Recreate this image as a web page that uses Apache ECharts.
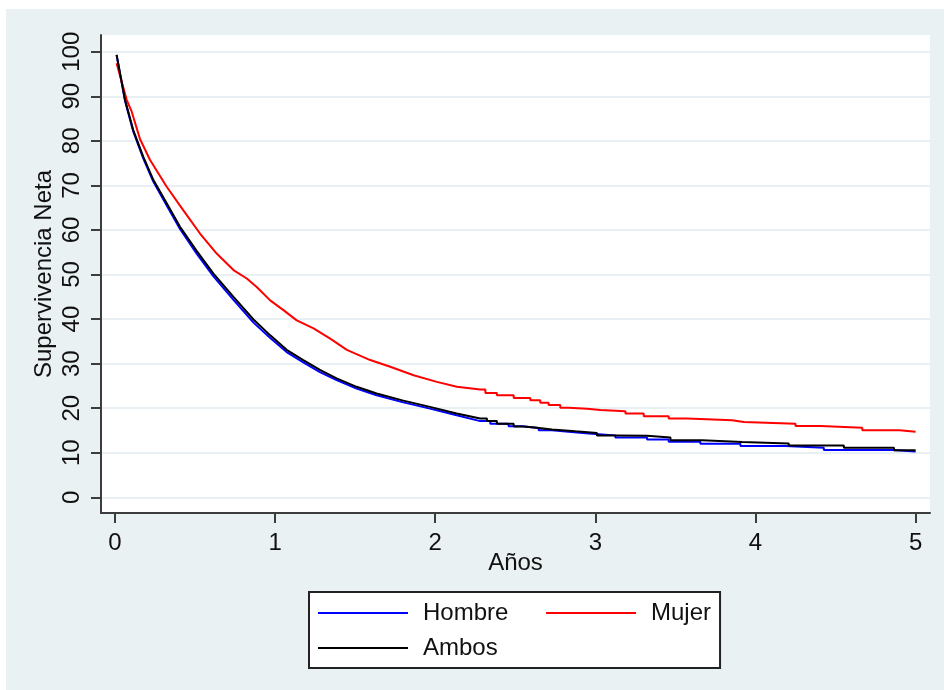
<!DOCTYPE html>
<html>
<head>
<meta charset="utf-8">
<title>Supervivencia Neta</title>
<script src="https://cdn.jsdelivr.net/npm/echarts@6/dist/echarts.min.js"></script>
<style>
  html, body { margin: 0; padding: 0; background: #ffffff; }
  #chart { position: absolute; left: 6px; top: 9px; width: 938px; height: 681px; }
</style>
</head>
<body>
<div id="chart"></div>
<script>
// Axis ticks
const xTicks = [0, 1, 2, 3, 4, 5];
const yTicks = [0, 10, 20, 30, 40, 50, 60, 70, 80, 90, 100];

// Net survival (%) by years since diagnosis.
// First part: dense readings [years, %]; second part: later survival steps [years, %].
const hombreInicio = [
  [0.01, 99.3], [0.0625, 89.0], [0.114, 82.1], [0.177, 76.0], [0.24, 70.8],
  [0.323, 65.5], [0.406, 60.2], [0.51, 54.7], [0.615, 49.6], [0.74, 44.3],
  [0.865, 39.2], [0.968, 35.8], [1.072, 32.6], [1.176, 30.3], [1.28, 28.1],
  [1.384, 26.3], [1.509, 24.4], [1.634, 22.9], [1.801, 21.3], [1.967, 19.9],
  [2.134, 18.4], [2.281, 17.1]
];
const hombreEscalones = [
  [2.344, 16.5], [2.458, 15.95], [2.542, 15.55], [2.646, 15.05], [2.729, 14.7],
  [2.833, 14.3], [2.958, 13.9], [3.125, 13.4], [3.323, 12.95], [3.458, 12.45],
  [3.656, 12.0], [3.906, 11.5], [4.187, 11.1], [4.427, 10.6], [4.854, 10.3],
  [5.0, 10.3]
];

const mujerInicio = [
  [0.01, 97.4], [0.073, 89.2], [0.104, 86.6], [0.156, 80.4], [0.219, 75.7],
  [0.323, 69.7], [0.427, 64.4], [0.531, 59.2], [0.635, 54.7], [0.74, 51.0],
  [0.823, 49.1], [0.885, 47.2], [0.969, 44.2], [1.052, 42.0], [1.135, 39.7],
  [1.24, 37.9], [1.344, 35.6], [1.448, 33.1], [1.594, 30.8], [1.719, 29.3],
  [1.865, 27.4], [2.01, 25.9], [2.135, 24.8], [2.281, 24.2]
];
const mujerEscalones = [
  [2.313, 23.4], [2.385, 22.9], [2.49, 22.3], [2.594, 21.8], [2.656, 21.2],
  [2.708, 20.7], [2.781, 20.1], [2.833, 19.9], [2.948, 19.6], [3.031, 19.3],
  [3.188, 18.8], [3.302, 18.2], [3.458, 17.7], [3.573, 17.3], [3.854, 16.9],
  [3.927, 16.5], [4.25, 16.0], [4.406, 15.6], [4.667, 15.05], [4.9, 14.7],
  [5.0, 14.7]
];

const ambosInicio = [
  [0.01, 99.3], [0.0625, 89.2], [0.114, 82.4], [0.177, 76.4], [0.24, 71.2],
  [0.323, 66.0], [0.406, 60.7], [0.51, 55.3], [0.615, 50.2], [0.74, 45.0],
  [0.865, 39.9], [0.968, 36.4], [1.072, 33.1], [1.176, 30.8], [1.28, 28.6],
  [1.384, 26.7], [1.509, 24.8], [1.634, 23.3], [1.801, 21.7], [1.967, 20.3],
  [2.134, 18.8], [2.281, 17.7]
];
const ambosEscalones = [
  [2.323, 17.1], [2.385, 16.5], [2.49, 15.9], [2.552, 15.6], [2.635, 15.2],
  [2.729, 14.8], [2.875, 14.45], [3.01, 13.9], [3.135, 13.8], [3.323, 13.4],
  [3.469, 12.8], [3.667, 12.4], [3.917, 12.05], [4.208, 11.6], [4.552, 11.1],
  [4.865, 10.55], [5.0, 10.55]
];

// Joins the dense part with the step part: each step holds the previous
// value until its time, then drops.
function curva(inicio, escalones) {
  const pts = inicio.slice();
  let prev = inicio[inicio.length - 1][1];
  escalones.forEach(function (p) {
    pts.push([p[0], prev]);
    pts.push([p[0], p[1]]);
    prev = p[1];
  });
  return pts;
}

const FONT = "'Liberation Sans', Arial, sans-serif";
const TEXT = '#111111';
const AXIS = '#3c3c3c';

const chart = echarts.init(document.getElementById('chart'), null, { renderer: 'canvas' });

chart.setOption({
  animation: false,
  backgroundColor: '#eaf1f3',
  textStyle: { fontFamily: FONT },
  grid: {
    left: 95, top: 26, right: 14, bottom: 177,
    show: true, backgroundColor: '#ffffff', borderWidth: 0,
    outerBoundsMode: 'none'
  },
  xAxis: {
    type: 'value',
    min: -0.0874, max: 5.09,
    name: 'Años',
    nameLocation: 'middle',
    nameGap: 38,
    nameMoveOverlap: false,
    nameTextStyle: { fontSize: 24, color: TEXT, fontFamily: FONT },
    axisLine: { show: true, onZero: false, lineStyle: { color: AXIS, width: 2 } },
    axisTick: { show: true, length: 10, customValues: xTicks, lineStyle: { color: AXIS, width: 2 } },
    axisLabel: { customValues: xTicks, fontSize: 24, color: TEXT, margin: 18, fontFamily: FONT },
    splitLine: { show: false }
  },
  yAxis: {
    type: 'value',
    min: -3.52, max: 103.75,
    name: 'Supervivencia Neta',
    nameLocation: 'middle',
    nameRotate: 90,
    nameGap: 45,
    nameMoveOverlap: false,
    nameTextStyle: { fontSize: 24, color: TEXT, fontFamily: FONT },
    axisLine: { show: true, onZero: false, lineStyle: { color: AXIS, width: 2 } },
    axisTick: { show: true, length: 10, customValues: yTicks, lineStyle: { color: AXIS, width: 2 } },
    axisLabel: { customValues: yTicks, rotate: 90, fontSize: 24, color: TEXT, margin: 17, fontFamily: FONT },
    splitLine: { show: true, lineStyle: { color: '#e9f0f4', width: 2 } }
  },
  legend: {
    data: ['Hombre', 'Mujer', 'Ambos'],
    // widen the first-column label so the second column starts further right
    formatter: function (name) {
      return name === 'Hombre' ? name + '\u00a0\u00a0\u00a0\u00a0' : name;
    },
    left: 303, top: 583, width: 420,
    orient: 'horizontal',
    icon: 'rect',
    itemWidth: 90, itemHeight: 2, itemGap: 11,
    padding: [9, 9, 8, 9],
    backgroundColor: '#ffffff',
    borderColor: '#222222', borderWidth: 2, borderRadius: 0,
    selectedMode: false,
    textStyle: { fontSize: 24, color: TEXT, fontFamily: FONT, padding: [0, 0, 0, 10] }
  },
  series: [
    {
      name: 'Hombre', type: 'line', data: curva(hombreInicio, hombreEscalones),
      symbol: 'none', showSymbol: false,
      lineStyle: { color: '#0000ff', width: 2 }, itemStyle: { color: '#0000ff' }
    },
    {
      name: 'Mujer', type: 'line', data: curva(mujerInicio, mujerEscalones),
      symbol: 'none', showSymbol: false,
      lineStyle: { color: '#ff0000', width: 2 }, itemStyle: { color: '#ff0000' }
    },
    {
      name: 'Ambos', type: 'line', data: curva(ambosInicio, ambosEscalones),
      symbol: 'none', showSymbol: false,
      lineStyle: { color: '#000000', width: 2 }, itemStyle: { color: '#000000' }
    }
  ]
});
</script>
</body>
</html>
